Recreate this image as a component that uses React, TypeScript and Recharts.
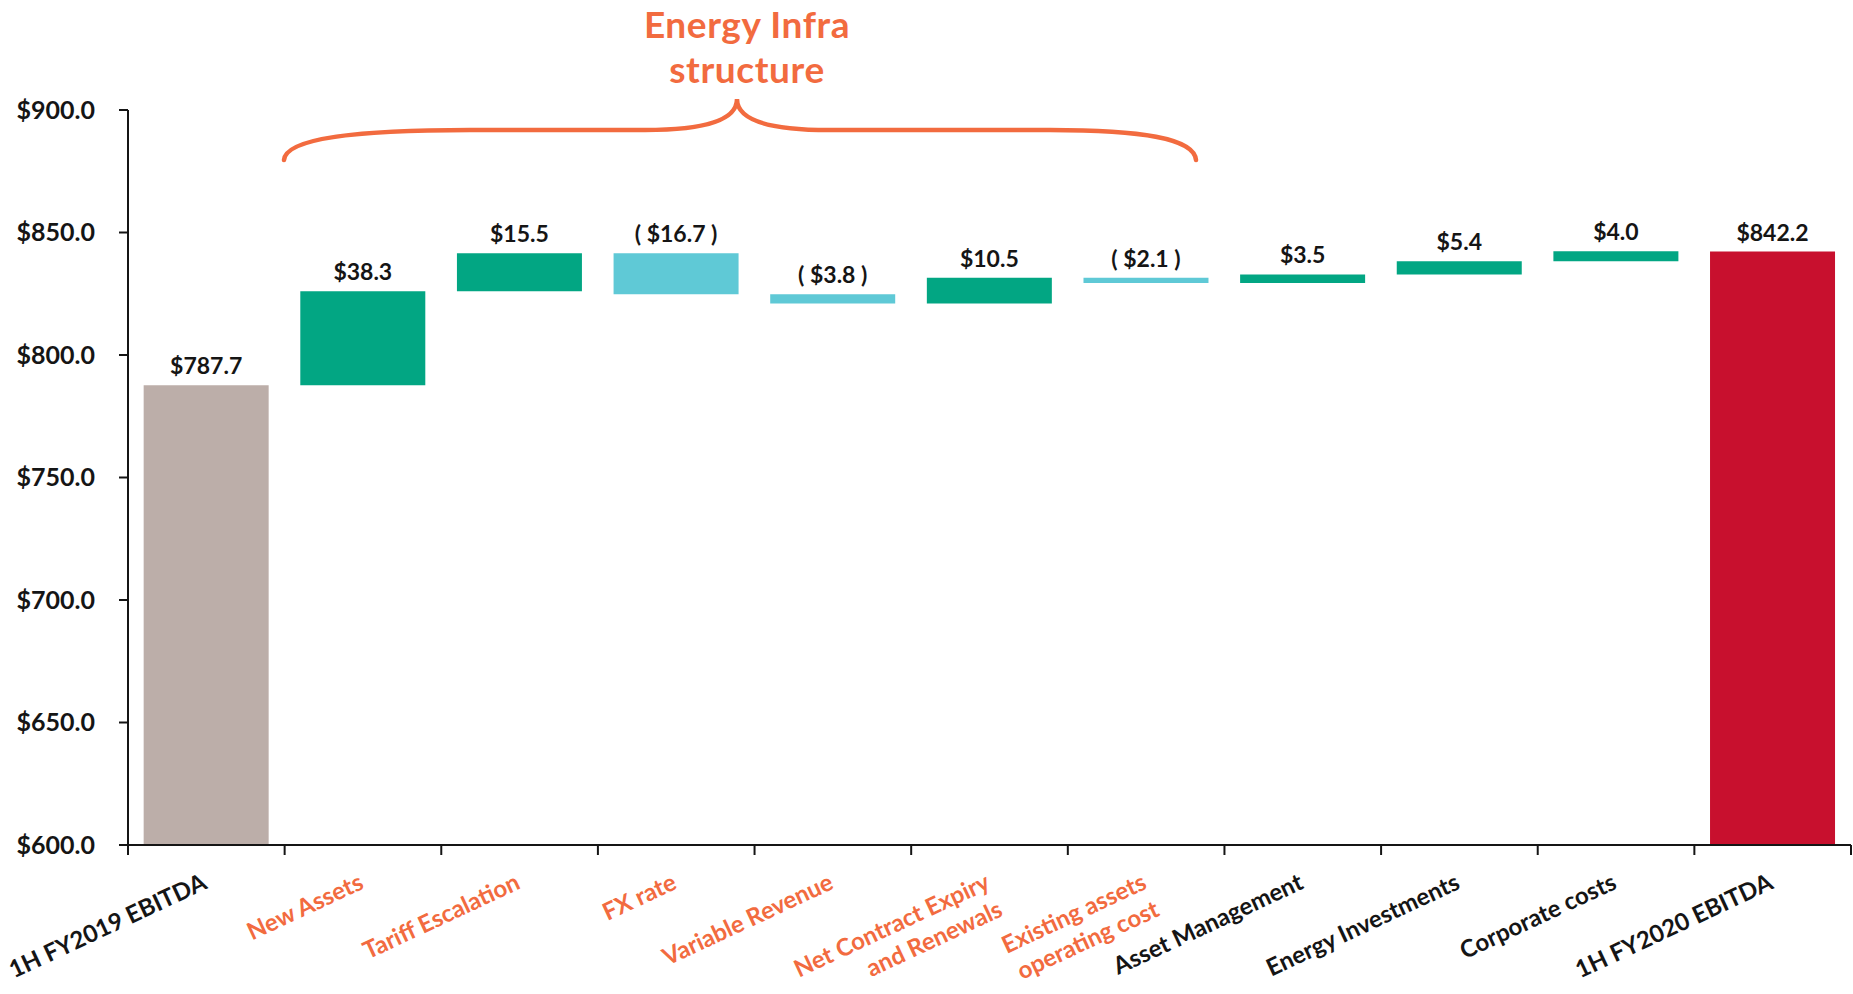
import React from "react";
import { BarChart, Bar, XAxis, YAxis, Cell, LabelList } from "recharts";

// EBITDA bridge, 1H FY2019 -> 1H FY2020 ($m)
const openingName = "1H FY2019 EBITDA";
const openingValue = 787.7;
const closingName = "1H FY2020 EBITDA";
const closingValue = 842.2;

const stepNames = [
  "New Assets",
  "Tariff Escalation",
  "FX rate",
  "Variable Revenue",
  "Net Contract Expiry\nand Renewals",
  "Existing assets\noperating cost",
  "Asset Management",
  "Energy Investments",
  "Corporate costs",
];
const stepValues = [38.3, 15.5, -16.7, -3.8, 10.5, -2.1, 3.5, 5.4, 4.0];

// steps grouped under the "Energy Infrastructure" brace
const infraSteps = stepNames.slice(0, 6);

const yTicks = [600, 650, 700, 750, 800, 850, 900];

const CHART_W = 1853;
const CHART_H = 994;
const Y_AXIS_W = 128;
const MARGIN = { top: 110, right: 2, bottom: 9, left: 0 };

const TAUPE = "#BCAEA9";
const GREEN = "#02A683";
const LIGHT_BLUE = "#5FC9D6";
const RED = "#C8102E";
const ORANGE = "#F26B3F";
const INK = "#151515";
const FONT = "Lato, 'Open Sans', sans-serif";

const fmtMoney = (v: number) =>
  v < 0 ? `( $${Math.abs(v).toFixed(1)} )` : `$${v.toFixed(1)}`;

type Row = { name: string; range: [number, number]; label: string; fill: string };

function buildRows(): Row[] {
  const rows: Row[] = [
    { name: openingName, range: [0, openingValue], label: fmtMoney(openingValue), fill: TAUPE },
  ];
  let running = openingValue;
  stepValues.forEach((v, i) => {
    const next = running + v;
    rows.push({
      name: stepNames[i],
      range: [Math.min(running, next), Math.max(running, next)],
      label: fmtMoney(v),
      fill: v >= 0 ? GREEN : LIGHT_BLUE,
    });
    running = next;
  });
  rows.push({ name: closingName, range: [0, closingValue], label: fmtMoney(closingValue), fill: RED });
  return rows;
}

const rows = buildRows();
const bandWidth = (CHART_W - Y_AXIS_W - MARGIN.left - MARGIN.right) / rows.length;

function CategoryTick(props: any) {
  const { x, y, payload, index } = props;
  const name: string = payload.value;
  const half = typeof payload.offset === "number" && payload.offset > 0 ? payload.offset : bandWidth / 2;
  const lines = name.split("\n");
  const color = infraSteps.includes(name) ? ORANGE : INK;
  return (
    <g>
      <line x1={x - half} x2={x - half} y1={y} y2={y + 10} stroke={INK} strokeWidth={2} />
      {index === rows.length - 1 && (
        <line x1={x + half} x2={x + half} y1={y} y2={y + 10} stroke={INK} strokeWidth={2} />
      )}
      <text
        transform={`translate(${x + 2},${y + 43}) rotate(-25)`}
        textAnchor="end"
        fill={color}
        fontFamily={FONT}
        fontWeight={700}
        fontSize={24}
      >
        {lines.map((l, i) => (
          <tspan key={i} x={0} dy={i === 0 ? 0 : 30}>
            {l}
          </tspan>
        ))}
      </text>
    </g>
  );
}

function ValueLabel(props: any) {
  const { x, y, width, value } = props;
  return (
    <text
      x={x + width / 2}
      y={y - 11}
      textAnchor="middle"
      fill={INK}
      fontFamily={FONT}
      fontWeight={700}
      fontSize={23}
    >
      {value}
    </text>
  );
}

export default function App() {
  return (
    <div style={{ position: "absolute", left: 0, top: 0, width: CHART_W, height: CHART_H, background: "#fff" }}>
      <BarChart width={CHART_W} height={CHART_H} data={rows} margin={MARGIN} barCategoryGap="10%">
        <YAxis
          type="number"
          domain={[600, 900]}
          ticks={yTicks}
          allowDataOverflow
          width={Y_AXIS_W}
          axisLine={{ stroke: INK, strokeWidth: 2 }}
          tickLine={{ stroke: INK, strokeWidth: 2 }}
          tickSize={9}
          tickMargin={24}
          tickFormatter={(v: number) => `$${v.toFixed(1)}`}
          tick={{ fill: INK, fontFamily: FONT, fontWeight: 700, fontSize: 25 }}
        />
        <XAxis
          dataKey="name"
          interval={0}
          height={140}
          axisLine={{ stroke: INK, strokeWidth: 2 }}
          tickLine={false}
          tickSize={0}
          tickMargin={0}
          tick={<CategoryTick />}
        />
        <Bar dataKey="range" isAnimationActive={false}>
          {rows.map((r, i) => (
            <Cell key={`cell-${i}`} fill={r.fill} />
          ))}
          <LabelList dataKey="label" content={<ValueLabel />} />
        </Bar>
      </BarChart>

      {/* brace and heading over the Energy Infrastructure steps */}
      <svg
        width={CHART_W}
        height={180}
        style={{ position: "absolute", left: 0, top: 0, pointerEvents: "none" }}
      >
        <text
          x={747}
          y={38}
          textAnchor="middle"
          fill={ORANGE}
          fontFamily={FONT}
          fontWeight={700}
          fontSize={37}
          letterSpacing={0.6}
        >
          Energy Infra
        </text>
        <text
          x={747}
          y={83}
          textAnchor="middle"
          fill={ORANGE}
          fontFamily={FONT}
          fontWeight={700}
          fontSize={37}
          letterSpacing={0.6}
        >
          structure
        </text>
        <path
          d="M 284 160 C 286 138, 360 130, 470 130 L 645 130 C 705 130, 737 120, 737 99 C 737 120, 769 130, 829 130 L 1050 130 C 1140 130, 1194 138, 1196 160"
          fill="none"
          stroke={ORANGE}
          strokeWidth={4.5}
          strokeLinecap="round"
        />
      </svg>
    </div>
  );
}
